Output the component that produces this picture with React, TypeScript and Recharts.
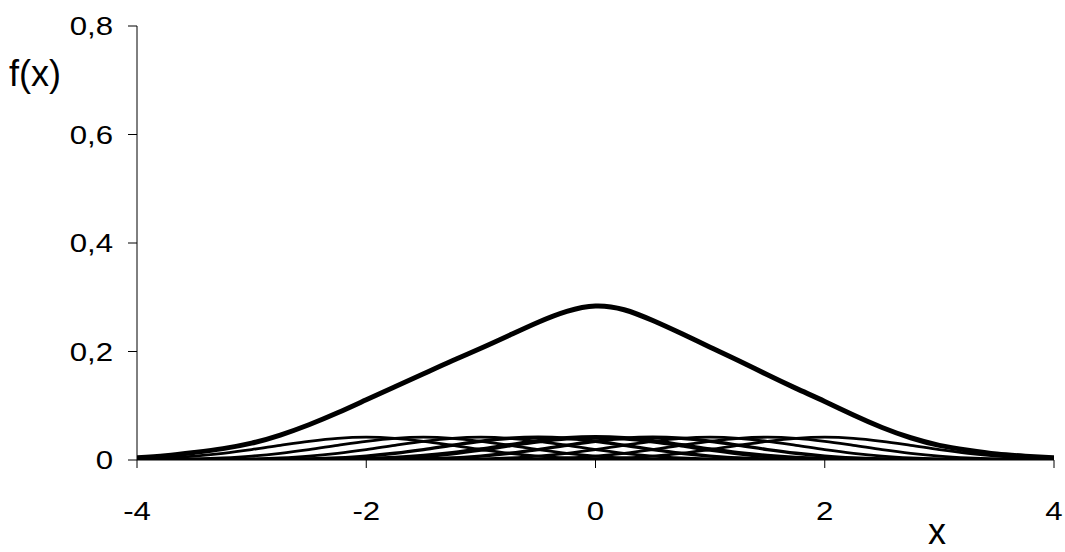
import { LineChart, Line, XAxis, YAxis } from 'recharts'

// x positions, step 0.25
const xs = [
  -4, -3.75, -3.5, -3.25, -3, -2.75, -2.5, -2.25, -2, -1.75, -1.5, -1.25, -1, -0.75, -0.5, -0.25, 0,
  0.25, 0.5, 0.75, 1, 1.25, 1.5, 1.75, 2, 2.25, 2.5, 2.75, 3, 3.25, 3.5, 3.75, 4,
]

// the summed density (thick curve)
const sumValues = [
  0.004, 0.008, 0.014, 0.021, 0.031, 0.046, 0.065, 0.087, 0.111, 0.135, 0.159, 0.183, 0.206, 0.23, 0.254, 0.274, 0.284,
  0.277, 0.257, 0.233, 0.208, 0.183, 0.157, 0.132, 0.108, 0.083, 0.06, 0.041, 0.027, 0.018, 0.011, 0.007, 0.004,
]

// the small kernels
const kM20 = [
  0.0018, 0.0038, 0.0072, 0.0124, 0.0192, 0.0271, 0.0345, 0.04, 0.042, 0.04, 0.0345, 0.0271, 0.0192, 0.0124, 0.0072, 0.0038, 0.0018,
  0.0008, 0.0003, 0.0001, 0, 0, 0, 0, 0, 0, 0, 0, 0, 0, 0, 0, 0,
]
const kM15 = [
  0.0003, 0.0008, 0.0018, 0.0038, 0.0072, 0.0124, 0.0192, 0.0271, 0.0345, 0.04, 0.042, 0.04, 0.0345, 0.0271, 0.0192, 0.0124, 0.0072,
  0.0038, 0.0018, 0.0008, 0.0003, 0.0001, 0, 0, 0, 0, 0, 0, 0, 0, 0, 0, 0,
]
const kM10 = [
  0, 0.0001, 0.0003, 0.0008, 0.0018, 0.0038, 0.0072, 0.0124, 0.0192, 0.0271, 0.0345, 0.04, 0.042, 0.04, 0.0345, 0.0271, 0.0192,
  0.0124, 0.0072, 0.0038, 0.0018, 0.0008, 0.0003, 0.0001, 0, 0, 0, 0, 0, 0, 0, 0, 0,
]
const kM05 = [
  0, 0, 0, 0.0001, 0.0003, 0.0008, 0.0018, 0.0038, 0.0072, 0.0124, 0.0192, 0.0271, 0.0345, 0.04, 0.042, 0.04, 0.0345,
  0.0271, 0.0192, 0.0124, 0.0072, 0.0038, 0.0018, 0.0008, 0.0003, 0.0001, 0, 0, 0, 0, 0, 0, 0,
]
const k00 = [
  0, 0, 0, 0, 0, 0.0001, 0.0003, 0.0008, 0.0018, 0.0038, 0.0072, 0.0124, 0.0192, 0.0271, 0.0345, 0.04, 0.042,
  0.04, 0.0345, 0.0271, 0.0192, 0.0124, 0.0072, 0.0038, 0.0018, 0.0008, 0.0003, 0.0001, 0, 0, 0, 0, 0,
]
const kP05 = [
  0, 0, 0, 0, 0, 0, 0, 0.0001, 0.0003, 0.0008, 0.0018, 0.0038, 0.0072, 0.0124, 0.0192, 0.0271, 0.0345,
  0.04, 0.042, 0.04, 0.0345, 0.0271, 0.0192, 0.0124, 0.0072, 0.0038, 0.0018, 0.0008, 0.0003, 0.0001, 0, 0, 0,
]
const kP10 = [
  0, 0, 0, 0, 0, 0, 0, 0, 0, 0.0001, 0.0003, 0.0008, 0.0018, 0.0038, 0.0072, 0.0124, 0.0192,
  0.0271, 0.0345, 0.04, 0.042, 0.04, 0.0345, 0.0271, 0.0192, 0.0124, 0.0072, 0.0038, 0.0018, 0.0008, 0.0003, 0.0001, 0,
]
const kP15 = [
  0, 0, 0, 0, 0, 0, 0, 0, 0, 0, 0, 0.0001, 0.0003, 0.0008, 0.0018, 0.0038, 0.0072,
  0.0124, 0.0192, 0.0271, 0.0345, 0.04, 0.042, 0.04, 0.0345, 0.0271, 0.0192, 0.0124, 0.0072, 0.0038, 0.0018, 0.0008, 0.0003,
]
const kP20 = [
  0, 0, 0, 0, 0, 0, 0, 0, 0, 0, 0, 0, 0, 0.0001, 0.0003, 0.0008, 0.0018,
  0.0038, 0.0072, 0.0124, 0.0192, 0.0271, 0.0345, 0.04, 0.042, 0.04, 0.0345, 0.0271, 0.0192, 0.0124, 0.0072, 0.0038, 0.0018,
]

const xTicks = [-4, -2, 0, 2, 4]
const yTicks = [0, 0.2, 0.4, 0.6, 0.8]

const kernels = [
  { key: 'kM20', values: kM20, w: 2.8 },
  { key: 'kM15', values: kM15, w: 2.8 },
  { key: 'kM10', values: kM10, w: 2.8 },
  { key: 'kM05', values: kM05, w: 3.4 },
  { key: 'k00', values: k00, w: 4.5 },
  { key: 'kP05', values: kP05, w: 3.4 },
  { key: 'kP10', values: kP10, w: 2.8 },
  { key: 'kP15', values: kP15, w: 2.8 },
  { key: 'kP20', values: kP20, w: 2.8 },
]

const data = xs.map((x, i) => {
  const row: Record<string, number> = { x, sum: sumValues[i] }
  kernels.forEach((k) => {
    row[k.key] = k.values[i]
  })
  return row
})

const FONT = '"Liberation Sans", Arial, sans-serif'

const fmt = (v: number) => String(v).replace('.', ',')

const YTick = (props: any) => {
  const { x, y, payload } = props
  return (
    <g transform={`translate(${x},${y})`}>
      <text transform="scale(1.2,1)" textAnchor="end" dy="0.36em" fontSize={26} fontFamily={FONT} fill="#000">
        {fmt(payload.value)}
      </text>
    </g>
  )
}

const XTick = (props: any) => {
  const { x, y, payload } = props
  return (
    <g transform={`translate(${x},${y})`}>
      <text transform="scale(1.2,1)" textAnchor="middle" dy="0.72em" fontSize={26} fontFamily={FONT} fill="#000">
        {payload.value}
      </text>
    </g>
  )
}

export default function App() {
  return (
    <div style={{ position: 'absolute', left: 0, top: 0, width: 1065, height: 552, background: '#fff', overflow: 'hidden' }}>
      <LineChart width={1065} height={552} data={data} margin={{ top: 26, right: 11, left: 0, bottom: 0 }}>
        <XAxis
          dataKey="x"
          type="number"
          domain={[-4, 4]}
          ticks={xTicks}
          height={92}
          tickSize={8}
          tickMargin={33}
          stroke="#000"
          tick={<XTick />}
          allowDataOverflow
        />
        <YAxis
          type="number"
          domain={[0, 0.8]}
          ticks={yTicks}
          width={137}
          tickSize={9}
          tickMargin={15}
          stroke="#000"
          tick={<YTick />}
          allowDataOverflow
        />
        {kernels.map((k) => (
          <Line
            key={k.key}
            dataKey={k.key}
            type="monotone"
            stroke="#000"
            strokeWidth={k.w}
            dot={false}
            isAnimationActive={false}
          />
        ))}
        <Line dataKey="sum" type="natural" stroke="#000" strokeWidth={5} dot={false} isAnimationActive={false} />
      </LineChart>
      <div style={{ position: 'absolute', left: 9, top: 53, fontFamily: FONT, fontSize: 36, lineHeight: '42px', color: '#000' }}>
        f(x)
      </div>
      <div style={{ position: 'absolute', left: 928, top: 522, fontFamily: FONT, fontSize: 36, lineHeight: '20px', color: '#000' }}>
        x
      </div>
    </div>
  )
}
